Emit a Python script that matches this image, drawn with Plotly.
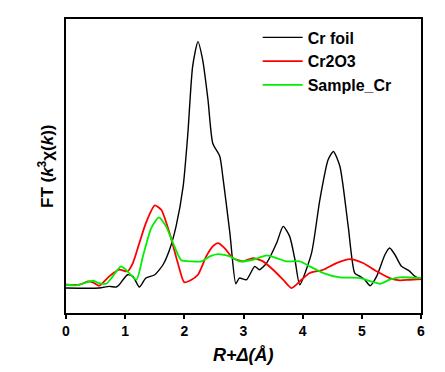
import plotly.graph_objects as go

# Cr foil
foil_x = [0.00, 0.56, 0.73, 0.85, 0.90, 1.04, 1.13, 1.24, 1.35, 1.50, 1.64, 1.75, 1.86, 1.98, 2.06, 2.14,
          2.23, 2.31, 2.40, 2.48, 2.60, 2.65, 2.77, 2.87, 2.93, 3.05, 3.19, 3.27, 3.39, 3.56, 3.67, 3.78,
          3.87, 3.95, 4.15, 4.29, 4.43, 4.52, 4.63, 4.77, 4.88, 4.97, 5.05, 5.14, 5.25, 5.39, 5.47, 5.56,
          5.67, 5.79, 5.90, 6.00]
foil_y = [25.0, 25.0, 26.7, 26.0, 28.3, 38.3, 36.7, 26.0, 35.0, 38.3, 48.3, 63.3, 86.7, 126.7, 180.0, 246.7,
          271.7, 253.3, 213.3, 170.0, 156.7, 136.7, 80.0, 29.3, 35.0, 33.3, 46.7, 43.3, 50.0, 70.0, 86.7, 76.7,
          53.3, 28.3, 60.0, 113.3, 153.3, 161.7, 146.7, 86.7, 40.0, 36.7, 33.3, 27.3, 36.7, 58.3, 65.0, 58.3,
          46.7, 42.7, 36.7, 33.3]

# Cr2O3
oxide_x = [0.00, 0.23, 0.37, 0.45, 0.56, 0.73, 0.90, 1.04, 1.13, 1.24, 1.35, 1.50, 1.61, 1.75, 1.89, 2.00,
           2.12, 2.23, 2.37, 2.48, 2.57, 2.68, 2.82, 2.99, 3.16, 3.33, 3.50, 3.67, 3.81, 3.98, 4.12, 4.35,
           4.57, 4.80, 5.02, 5.25, 5.47, 5.64, 5.81, 6.00]
oxide_y = [28.3, 28.3, 31.7, 30.7, 27.3, 36.7, 43.3, 41.7, 50.0, 70.0, 90.0, 107.7, 103.3, 80.0, 50.0, 30.7,
           33.3, 38.3, 56.7, 66.7, 70.0, 65.0, 55.0, 51.7, 55.0, 51.7, 43.3, 33.3, 25.0, 33.3, 40.0, 43.3,
           50.0, 54.0, 50.0, 41.7, 35.0, 32.7, 33.3, 34.0]

# Sample_Cr
sample_x = [0.00, 0.17, 0.31, 0.45, 0.56, 0.68, 0.79, 0.93, 1.04, 1.19, 1.30, 1.44, 1.57, 1.69, 1.81, 1.95,
            2.12, 2.29, 2.43, 2.57, 2.77, 2.93, 3.16, 3.39, 3.56, 3.72, 3.95, 4.12, 4.35, 4.63, 4.97, 5.19,
            5.31, 5.47, 5.64, 6.00]
sample_y = [28.3, 27.7, 30.0, 32.3, 30.0, 29.3, 36.7, 46.7, 41.7, 33.3, 56.7, 85.0, 95.7, 86.7, 70.0, 52.7,
            51.7, 51.7, 56.7, 59.0, 56.7, 51.7, 53.3, 57.7, 55.0, 51.7, 51.7, 46.7, 40.0, 35.7, 35.0, 31.0,
            29.3, 33.3, 35.7, 35.0]

x_ticks = [0, 1, 2, 3, 4, 5, 6]

FONT = "Arial, Liberation Sans, sans-serif"

fig = go.Figure()
fig.add_trace(go.Scatter(x=foil_x, y=foil_y, mode="lines", name="Cr foil",
                         line=dict(color="#000000", width=1.4, shape="spline", smoothing=0.6)))
fig.add_trace(go.Scatter(x=oxide_x, y=oxide_y, mode="lines", name="Cr2O3",
                         line=dict(color="#ff0000", width=1.8, shape="spline", smoothing=0.6)))
fig.add_trace(go.Scatter(x=sample_x, y=sample_y, mode="lines", name="Sample_Cr",
                         line=dict(color="#00ee00", width=1.8, shape="spline", smoothing=0.6)))

fig.update_layout(
    width=437, height=364,
    margin=dict(l=58, r=24, t=11, b=59, autoexpand=False),
    paper_bgcolor="white", plot_bgcolor="white",
    font=dict(family=FONT, color="black", size=13),
    showlegend=True,
    legend=dict(x=0.54, y=0.995, xanchor="left", yanchor="top",
                bgcolor="rgba(0,0,0,0)", borderwidth=0,
                font=dict(family=FONT, size=16, color="black", weight="bold"),
                tracegroupgap=0, itemwidth=40),
    xaxis=dict(range=[0, 6], tickvals=x_ticks, ticktext=[str(t) for t in x_ticks],
               ticks="outside", ticklen=4, tickwidth=2, tickcolor="black",
               showline=True, linecolor="black", linewidth=2, mirror=True,
               showgrid=False, zeroline=False, automargin=False,
               tickfont=dict(family=FONT, size=14, color="black", weight="bold")),
    yaxis=dict(range=[0, 294.3], showticklabels=False, ticks="",
               showline=True, linecolor="black", linewidth=2, mirror=True,
               showgrid=False, zeroline=False, automargin=False),
    annotations=[
        dict(text="<i>R+Δ(Å)</i>", xref="paper", yref="paper", x=0.5, y=0,
             xanchor="center", yanchor="middle", yshift=-42, showarrow=False,
             font=dict(family=FONT, size=18, color="black", weight="bold")),
        dict(text="FT (<i>k</i><sup>3</sup>χ(<i>k</i>))", xref="paper", yref="paper", x=0, y=0.5,
             xanchor="center", yanchor="middle", xshift=-20, textangle=-90, showarrow=False,
             font=dict(family=FONT, size=17, color="black", weight="bold")),
    ],
)

fig.write_html("out.html")
